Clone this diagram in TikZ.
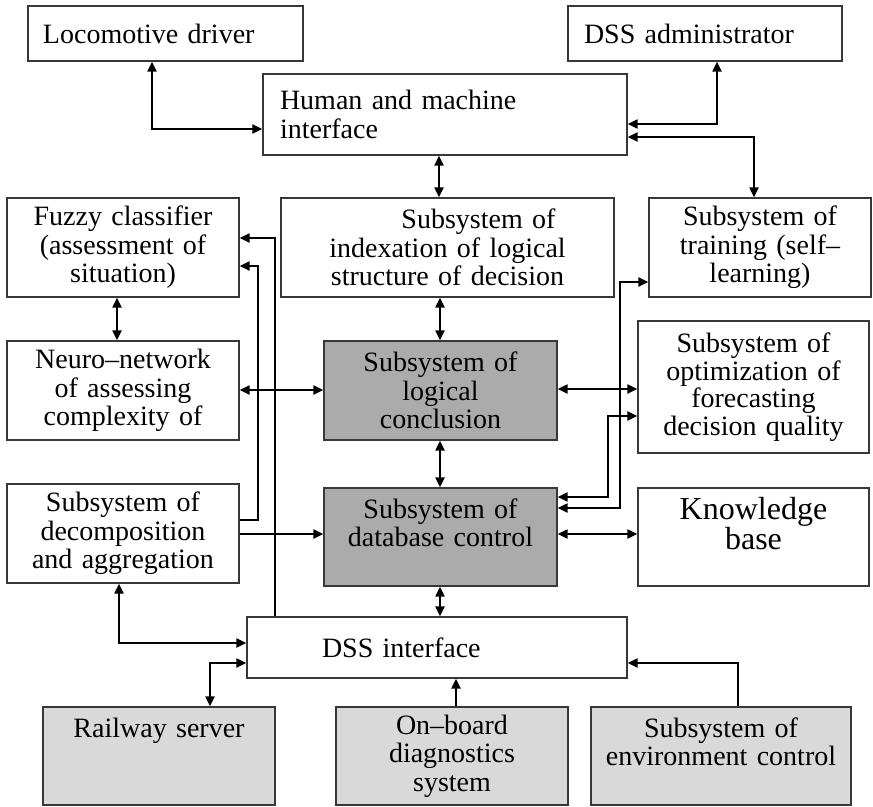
\documentclass[tikz,border=0pt]{standalone}
\usepackage{fontspec}
\setmainfont{Liberation Serif}
\usetikzlibrary{arrows.meta}
\definecolor{darkfill}{gray}{0.67}
\definecolor{lightfill}{gray}{0.85}
\definecolor{edge}{gray}{0.22}
\tikzset{
  box/.style={draw=edge, line width=1.3bp, fill=white, inner xsep=0pt, inner ysep=0pt,
    font=\fontsize{28bp}{28.5bp}\selectfont, align=center},
  leftbox/.style={box, align=left},
  conn/.style={line width=2.1bp, black},
  biarrow/.style={conn, {Triangle[length=10bp,width=9bp]}-{Triangle[length=10bp,width=9bp]}},
  oneway/.style={conn, -{Triangle[length=10bp,width=9bp]}},
}
\begin{document}
\begin{tikzpicture}[x=1bp, y=-1bp]
\useasboundingbox (0,0) rectangle (873,807);

% top row
\node[leftbox, minimum width=275bp, minimum height=55bp, text width=245bp] (loco) at (165.5,33.5) {Locomotive driver};
\node[leftbox, minimum width=274bp, minimum height=55bp, text width=242bp] (admin) at (705,33.5) {DSS administrator};
\node[leftbox, minimum width=364bp, minimum height=81bp, text width=330bp] (hmi) at (445,114.5) {Human and machine\\interface};

% second row
\node[box, minimum width=232bp, minimum height=99bp, text width=222bp] (fuzzy) at (123,247.5) {Fuzzy classifier\\(assessment of\\situation)};
\node[box, minimum width=333bp, minimum height=99bp, text width=323bp] (index) at (447.5,247.5) {\hspace*{62bp}Subsystem of\\indexation of logical\\structure of decision};
\node[box, minimum width=222bp, minimum height=99bp, text width=212bp] (train) at (760,247.5) {Subsystem of\\training (self–\\learning)};

% third row
\node[box, minimum width=232bp, minimum height=99bp, text width=222bp] (neuro) at (123,390.5) {Neuro–network\\of assessing\\complexity of};
\node[box, fill=darkfill, minimum width=233bp, minimum height=99bp, text width=223bp] (logic) at (440.5,390.5) {Subsystem of\\logical\\conclusion};
\node[box, minimum width=231bp, minimum height=132bp, text width=221bp, font=\fontsize{28bp}{27.5bp}\selectfont] (optim) at (753.5,387) {Subsystem of\\optimization of\\forecasting\\decision quality};

% fourth row
\node[box, minimum width=232bp, minimum height=99bp, text width=222bp] (decomp) at (123,533.5) {Subsystem of\\decomposition\\and aggregation};
\node[box, fill=darkfill, minimum width=233bp, minimum height=98bp, text width=223bp] (db) at (440.5,537) {Subsystem of\\database control\\\mbox{}};
\node[box, minimum width=231bp, minimum height=98bp, text width=221bp, font=\fontsize{32bp}{28bp}\selectfont] (kb) at (753.5,537) {Knowledge\\base\\\mbox{}};

% DSS interface
\node[leftbox, minimum width=380bp, minimum height=61bp, text width=230bp] (dssi) at (437,647.5) {DSS interface};

% bottom row
\node[box, fill=lightfill, minimum width=232bp, minimum height=98bp, text width=222bp] (rail) at (159,756) {Railway server\\\mbox{}\\\mbox{}};
\node[box, fill=lightfill, minimum width=232bp, minimum height=98bp, text width=222bp] (onboard) at (452,756) {On–board\\diagnostics\\system};
\node[box, fill=lightfill, minimum width=260bp, minimum height=98bp, text width=250bp] (env) at (721,756) {Subsystem of\\environment control\\\mbox{}};

% connectors
\draw[biarrow] ([xshift=-13.5bp]loco.south) |- ([yshift=-14.5bp]hmi.west);
\draw[biarrow] ([xshift=12bp]admin.south) |- ([yshift=-9.5bp]hmi.east);
\draw[biarrow] ([yshift=-22.5bp]hmi.east) -| ([xshift=-6bp]train.north);
\draw[biarrow] ([xshift=-6bp]hmi.south) -- ([xshift=-6bp]hmi.south |- index.north);
\draw[biarrow] ([xshift=-6bp]fuzzy.south) -- ([xshift=-6bp]neuro.north);
\draw[biarrow] ([yshift=0.5bp]neuro.east) -- ([yshift=0.5bp]logic.west);
\draw[biarrow] ([xshift=-0.5bp]logic.north |- index.south) -- ([xshift=-0.5bp]logic.north);
\draw[biarrow] ([yshift=1.5bp]logic.east) -- ([yshift=1.5bp]logic.east -| optim.west);
\draw[biarrow] ([xshift=-0.5bp]logic.south) -- ([xshift=-0.5bp]db.north);
\draw[biarrow] ([yshift=3bp]db.east) -- ([yshift=3bp]kb.west);
\draw[biarrow] ([xshift=-0.5bp]db.south) -- ([xshift=-0.5bp]db.south |- dssi.north);
\draw[oneway] ([yshift=-0.5bp]decomp.east) -- ([yshift=-0.5bp]decomp.east -| db.west);
\draw[oneway] ([yshift=13.5bp]decomp.east) -- ++(18bp,0) |- ([yshift=-18.5bp]fuzzy.east);
\draw[oneway] ([xshift=-162bp]dssi.north) |- ([yshift=9.5bp]fuzzy.east);
\draw[biarrow] ([yshift=40bp]db.east) -- ++(50bp,0) |- ([yshift=-29bp]optim.west);
\draw[biarrow] ([yshift=29bp]db.east) -- ++(62bp,0) |- ([yshift=-34.5bp]train.west);
\draw[biarrow] ([xshift=-4bp]decomp.south) |- ([yshift=4.5bp]dssi.west);
\draw[biarrow] ([xshift=51bp]rail.north) |- ([yshift=-15.5bp]dssi.west);
\draw[oneway] ([xshift=4bp]onboard.north) -- ([xshift=4bp]onboard.north |- dssi.south);
\draw[oneway] ([xshift=17bp]env.north) |- ([yshift=-15.5bp]dssi.east);
\end{tikzpicture}
\end{document}
